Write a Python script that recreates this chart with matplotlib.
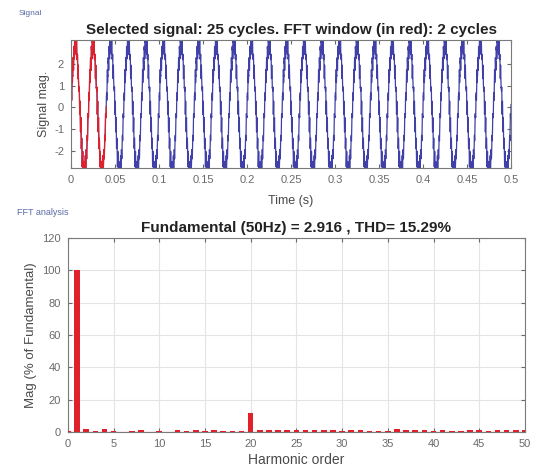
import numpy as np
import matplotlib
matplotlib.use('Agg')
import matplotlib.pyplot as plt

plt.rcParams['font.family'] = ['Liberation Sans', 'DejaVu Sans']
plt.rcParams['axes.unicode_minus'] = False

#  ----------------------- DATA ----------------------------------

f0 = 50.0               # fundamental (Hz)
fund_mag = 2.916        # fundamental amplitude
thd = 15.29
n_cycles = 25
fft_cycles = 2

# harmonic spectrum, % of fundamental (order 0..50)
harm_order = list(range(0, 51))
harm_mag = [0.3, 100, 2.0, 0.4, 2.0, 0.6, 0.2, 0.3, 1.0, 0.2,
            0.6, 0.2, 1.0, 0.3, 1.2, 0.7, 1.1, 0.3, 0.7, 0.7,
            11.5, 1.0, 1.0, 1.2, 1.4, 1.2, 1.0, 0.9, 0.9, 0.9,
            0.5, 1.1, 1.1, 0.6, 0.3, 0.4, 1.6, 1.0, 1.0, 1.0,
            0.5, 1.4, 0.3, 0.4, 1.0, 1.0, 0.4, 0.9, 0.9, 0.9, 0.9]

time_ticks = [0, 0.05, 0.1, 0.15, 0.2, 0.25, 0.3, 0.35, 0.4, 0.45, 0.5]
time_labels = ['0', '0.05', '0.1', '0.15', '0.2', '0.25', '0.3', '0.35', '0.4', '0.45', '0.5']
sig_ticks = [-2, -1, 0, 1, 2]
harm_ticks = [0, 5, 10, 15, 20, 25, 30, 35, 40, 45, 50]
mag_ticks = [0, 20, 40, 60, 80, 100, 120]

# rebuild the time signal from the spectrum
# (quadratic phases so the small harmonics don't pile up into spikes)
t = np.linspace(0, n_cycles / f0, 20000)
sig = np.zeros_like(t)
for h, m in zip(harm_order[1:], harm_mag[1:]):
    ph = 0.0 if h in (1, 20) else np.pi * h * h / 50.0
    sig += fund_mag * m / 100.0 * np.sin(2 * np.pi * h * f0 * t + ph)

win = t <= fft_cycles / f0

#  ----------------------- FIGURE ----------------------------------

fig = plt.figure(figsize=(5.34, 4.71), dpi=100)
tick_col = '#6a6a6a'
lab_col = '#4a4a4a'
edge_col = '#7a7a7a'

ax1 = fig.add_axes([0.133, 0.643, 0.824, 0.272])
ax1.plot(t, sig, color='#4040a8', lw=0.9)
ax1.plot(t[win], sig[win], color='#e0202a', lw=0.9)
ax1.set_xlim(0, 0.5)
ax1.set_ylim(-2.8, 3.1)
ax1.set_xticks(time_ticks)
ax1.set_xticklabels(time_labels)
ax1.set_yticks(sig_ticks)
ax1.set_ylabel('Signal mag.', fontsize=9, color=lab_col, labelpad=3)
ax1.set_xlabel('Time (s)', fontsize=9, color=lab_col, labelpad=7)
ax1.set_title('Selected signal: %d cycles. FFT window (in red): %d cycles' % (n_cycles, fft_cycles),
              fontsize=11, fontweight='bold', pad=4, color='#222222')

ax2 = fig.add_axes([0.127, 0.083, 0.856, 0.412])
ax2.bar(harm_order, harm_mag, width=0.6, color='#e0202a', zorder=3)
ax2.axhline(0, color='#e0202a', lw=0.8, zorder=2)
ax2.set_xlim(0, 50)
ax2.set_ylim(0, 120)
ax2.set_xticks(harm_ticks)
ax2.set_yticks(mag_ticks)
ax2.grid(True, color='#e4e4e4', lw=0.8, zorder=0)
ax2.set_ylabel('Mag (% of Fundamental)', fontsize=9.5, color=lab_col, labelpad=4)
ax2.set_xlabel('Harmonic order', fontsize=10, color=lab_col, labelpad=3)
ax2.set_title('Fundamental (%dHz) = %.3f , THD= %.2f%%' % (f0, fund_mag, thd),
              fontsize=11, fontweight='bold', pad=4, color='#222222')

for ax in (ax1, ax2):
    ax.tick_params(labelsize=8, colors=tick_col, length=3, direction='in',
                   top=True, right=True, pad=5)
    for s in ax.spines.values():
        s.set_color(edge_col)
        s.set_linewidth(0.8)

fig.text(0.034, 0.968, 'Signal', fontsize=6, color='#5a6aa8')
fig.text(0.032, 0.543, 'FFT analysis', fontsize=6.5, color='#5a6aa8')

fig.savefig('out.png', dpi=100)
